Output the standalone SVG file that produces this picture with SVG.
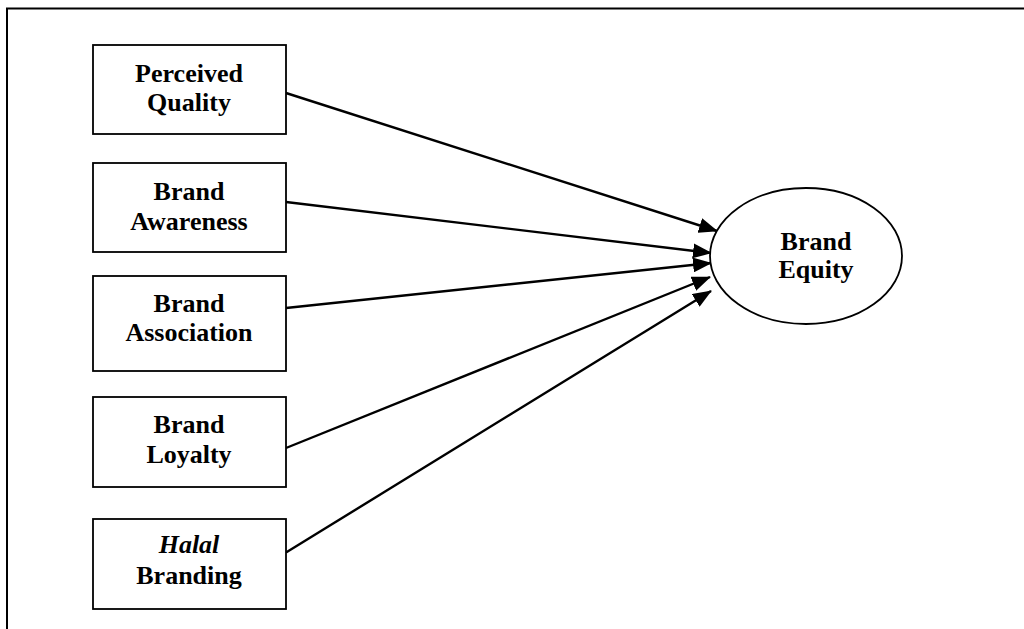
<svg xmlns="http://www.w3.org/2000/svg" width="1024" height="629" viewBox="0 0 1024 629">
<style>
.box{fill:#fff;stroke:#000;stroke-width:1.8}
.t{font-family:"Liberation Serif","Times New Roman",serif;font-weight:bold;font-size:26px;fill:#000;text-anchor:middle}
.i{font-style:italic}
.c{stroke:#000;stroke-width:2.4;fill:none;marker-end:url(#ah)}
</style>
<defs>
<marker id="ah" markerWidth="19" markerHeight="15" refX="18" refY="7.5" orient="auto" markerUnits="userSpaceOnUse">
<path d="M0,0 L19,7.5 L0,15 Z" fill="#000"/>
</marker>
</defs>
<rect width="1024" height="629" fill="#fff"/>
<g id="frame">
<path d="M7,629 V8.5 H1024" fill="none" stroke="#000" stroke-width="2"/>
</g>
<g id="connectors">
<line class="c" x1="286" y1="93" x2="717" y2="231"/>
<line class="c" x1="286" y1="202" x2="711" y2="253"/>
<line class="c" x1="286" y1="308" x2="711" y2="263"/>
<line class="c" x1="286" y1="448" x2="710" y2="277"/>
<line class="c" x1="286" y1="552.5" x2="711" y2="291"/>
</g>
<g id="n1">
<rect class="box" x="93" y="45" width="193" height="89"/>
<text class="t" x="189" y="82">Perceived</text>
<text class="t" x="189" y="111">Quality</text>
</g>
<g id="n2">
<rect class="box" x="93" y="163" width="193" height="89"/>
<text class="t" x="189" y="200">Brand</text>
<text class="t" x="189" y="230">Awareness</text>
</g>
<g id="n3">
<rect class="box" x="93" y="276" width="193" height="95"/>
<text class="t" x="189" y="312">Brand</text>
<text class="t" x="189" y="341">Association</text>
</g>
<g id="n4">
<rect class="box" x="93" y="397" width="193" height="90"/>
<text class="t" x="189" y="433">Brand</text>
<text class="t" x="189" y="463">Loyalty</text>
</g>
<g id="n5">
<rect class="box" x="93" y="519" width="193" height="90"/>
<text class="t i" x="189" y="553" font-weight="normal">Halal</text>
<text class="t" x="189" y="584">Branding</text>
</g>
<g id="n6">
<ellipse cx="806" cy="256" rx="96" ry="68" fill="#fff" stroke="#000" stroke-width="1.8"/>
<text class="t" x="816" y="250">Brand</text>
<text class="t" x="816" y="278">Equity</text>
</g>
</svg>
